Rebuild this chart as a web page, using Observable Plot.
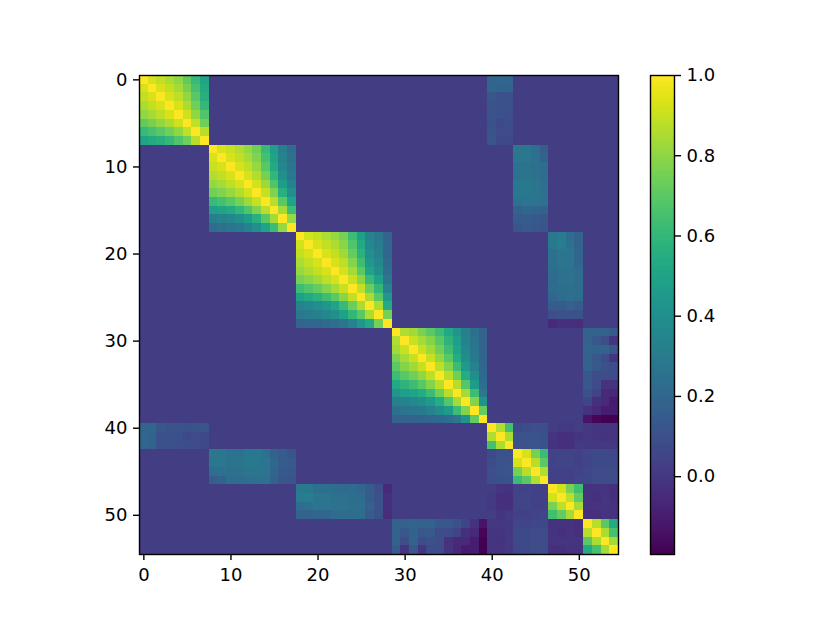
<!DOCTYPE html>
<html>
<head>
<meta charset="utf-8">
<script src="https://cdn.jsdelivr.net/npm/d3@7"></script>
<script src="https://cdn.jsdelivr.net/npm/@observablehq/plot@0.6"></script>
<style>
  html, body { margin: 0; padding: 0; background: #fff; }
  #figure { position: relative; width: 830px; height: 623px; overflow: hidden; }
  #figure svg { position: absolute; top: 0; }
</style>
</head>
<body>
<div id="figure"></div>
<script>
const N = 55;
const background = 0.02;
const axisTicks = [0, 10, 20, 30, 40, 50];
const barTicks = [0, 0.2, 0.4, 0.6, 0.8, 1];
const vmin = -0.194, vmax = 1;

// Diagonal blocks
const blockA = [ // 0-7
  [1.00,.93,.89,.85,.80,.71,.61,.50],
  [.93,1.00,.93,.89,.84,.75,.65,.53],
  [.89,.93,1.00,.93,.88,.80,.69,.56],
  [.85,.89,.93,1.00,.93,.85,.74,.60],
  [.80,.84,.88,.93,1.00,.91,.80,.67],
  [.71,.75,.80,.85,.91,1.00,.89,.74],
  [.61,.65,.69,.74,.80,.89,1.00,.87],
  [.50,.53,.56,.60,.67,.74,.87,1.00]
];
const blockB = [ // 8-17
  [1.00,.93,.90,.86,.81,.74,.61,.47,.31,.23],
  [.93,1.00,.93,.89,.84,.77,.65,.50,.34,.25],
  [.90,.93,1.00,.93,.88,.81,.69,.53,.36,.27],
  [.86,.89,.93,1.00,.93,.86,.75,.59,.40,.29],
  [.81,.84,.88,.93,1.00,.92,.82,.67,.46,.33],
  [.74,.77,.81,.86,.92,1.00,.90,.77,.56,.40],
  [.61,.65,.69,.75,.82,.90,1.00,.87,.69,.50],
  [.47,.50,.53,.59,.67,.77,.87,1.00,.84,.63],
  [.31,.34,.36,.40,.46,.56,.69,.84,1.00,.81],
  [.23,.25,.27,.29,.33,.40,.50,.63,.81,1.00]
];
const blockC = [ // 18-28
  [1.00,.92,.89,.85,.81,.75,.63,.49,.34,.28,.19],
  [.92,1.00,.93,.89,.85,.79,.67,.53,.37,.30,.20],
  [.89,.93,1.00,.93,.89,.83,.72,.57,.40,.32,.20],
  [.85,.89,.93,1.00,.93,.88,.78,.63,.44,.36,.22],
  [.81,.85,.89,.93,1.00,.92,.84,.70,.50,.40,.24],
  [.75,.79,.83,.88,.92,1.00,.90,.79,.61,.48,.27],
  [.63,.67,.72,.78,.84,.90,1.00,.89,.73,.59,.33],
  [.49,.53,.57,.63,.70,.79,.89,1.00,.85,.69,.44],
  [.34,.37,.40,.44,.50,.61,.73,.85,1.00,.85,.53],
  [.28,.30,.32,.36,.40,.48,.59,.69,.85,1.00,.75],
  [.19,.20,.20,.22,.24,.27,.33,.44,.53,.75,1.00]
];
const blockD = [ // 29-39
  [1.00,.86,.83,.76,.70,.62,.52,.43,.32,.24,.17],
  [.86,1.00,.90,.84,.78,.69,.58,.47,.34,.26,.18],
  [.83,.90,1.00,.90,.83,.74,.63,.50,.37,.27,.18],
  [.76,.84,.90,1.00,.90,.80,.69,.54,.39,.29,.19],
  [.70,.78,.83,.90,1.00,.88,.78,.62,.45,.32,.20],
  [.62,.69,.74,.80,.88,1.00,.87,.74,.54,.39,.21],
  [.52,.58,.63,.69,.78,.87,1.00,.87,.68,.46,.23],
  [.43,.47,.50,.54,.62,.74,.87,1.00,.84,.62,.28],
  [.32,.34,.37,.39,.45,.54,.68,.84,1.00,.78,.42],
  [.24,.26,.27,.29,.32,.39,.46,.62,.78,1.00,.72],
  [.17,.18,.18,.19,.20,.21,.23,.28,.42,.72,1.00]
];
const blockF = [[1.00,.86,.65],[.86,1.00,.85],[.65,.85,1.00]]; // 40-42
const blockG = [[1.00,.93,.75,.62],[.93,1.00,.87,.70],[.75,.87,1.00,.86],[.62,.70,.86,1.00]]; // 43-46
const blockH = [[1.00,.92,.76,.64],[.92,1.00,.88,.72],[.76,.88,1.00,.84],[.64,.72,.84,1.00]]; // 47-50
const blockI = [[1.00,.87,.70,.53],[.87,1.00,.85,.65],[.70,.85,1.00,.84],[.53,.65,.84,1.00]]; // 51-54

// Off-diagonal blocks
const crossAF = [ // rows 0-7, cols 40-42
  [.19,.20,.19],[.19,.19,.18],[.13,.10,.10],[.11,.10,.10],
  [.11,.10,.09],[.10,.07,.08],[.11,.08,.08],[.12,.07,.07]
];
const crossBG = [ // rows 8-17, cols 43-46
  [.28,.28,.23,.16],[.28,.28,.25,.18],[.25,.26,.24,.23],[.25,.26,.25,.23],[.29,.29,.27,.24],
  [.29,.29,.27,.25],[.25,.27,.27,.25],[.18,.20,.19,.17],[.15,.15,.14,.13],[.12,.14,.13,.12]
];
const crossCH = [ // rows 18-28, cols 47-50
  [.29,.30,.23,.18],[.29,.31,.25,.18],[.24,.27,.27,.20],[.24,.27,.27,.20],[.23,.25,.25,.23],
  [.22,.25,.26,.23],[.22,.23,.24,.23],[.20,.23,.24,.23],[.15,.15,.17,.15],[.09,.10,.11,.10],
  [-.05,-.03,-.03,-.04]
];
const crossDI = [ // rows 29-39, cols 51-54
  [.18,.18,.18,.15],[.17,.13,.09,-.01],[.19,.18,.18,.13],[.17,.13,.08,-.01],[.18,.14,.10,.08],
  [.13,.08,.09,.08],[.13,.08,-.02,-.01],[.10,.05,-.05,-.06],[.05,-.03,-.05,-.11],
  [-.02,-.06,-.10,-.10],[-.13,-.18,-.19,-.19]
];
const crossFG = [[.07,.08,.09,.09],[.10,.11,.11,.10],[.10,.11,.12,.11]]; // rows 40-42, cols 43-46
const crossFH = [[.02,.01,.00,.02],[-.01,-.03,-.03,-.01],[-.02,-.03,-.03,.01]]; // rows 40-42, cols 47-50
const crossFI = [[.00,-.01,-.01,-.01],[.00,-.01,-.02,-.01],[.00,.00,.00,.00]]; // rows 40-42, cols 51-54
const crossGH = [[.04,.05,.05,.03],[.04,.05,.05,.03],[.03,.03,.03,.04],[.03,.03,.03,.05]]; // rows 43-46, cols 47-50
const crossGI = [[.06,.07,.07,.06],[.05,.07,.07,.07],[.06,.08,.08,.08],[.06,.08,.08,.08]]; // rows 43-46, cols 51-54
const crossHI = [[-.02,-.02,-.01,-.03],[-.02,-.03,-.01,-.03],[-.02,-.01,-.01,-.02],[-.03,-.03,-.01,-.02]]; // rows 47-50, cols 51-54

const placements = [
  [0, 0, blockA], [8, 8, blockB], [18, 18, blockC], [29, 29, blockD],
  [40, 40, blockF], [43, 43, blockG], [47, 47, blockH], [51, 51, blockI],
  [0, 40, crossAF], [8, 43, crossBG], [18, 47, crossCH], [29, 51, crossDI],
  [40, 43, crossFG], [40, 47, crossFH], [40, 51, crossFI],
  [43, 47, crossGH], [43, 51, crossGI], [47, 51, crossHI]
];

const matrix = Array.from({length: N}, () => new Array(N).fill(background));
for (const [r0, c0, rows] of placements) {
  rows.forEach((row, i) => row.forEach((v, j) => {
    matrix[r0 + i][c0 + j] = v;
    matrix[c0 + j][r0 + i] = v;
  }));
}
const cells = matrix.flatMap((row, r) => row.map((value, c) => ({r, c, value})));
const indices = d3.range(N);

const colorScale = {type: "linear", scheme: "viridis", domain: [vmin, vmax], clamp: true};
const font = {fontFamily: "'DejaVu Sans', sans-serif", fontSize: "18px", background: "transparent", color: "#000", overflow: "visible"};
const tickStyle = {tickSize: 6, tickPadding: 6, strokeWidth: 1.4, fontSize: 18, label: null};

const heatmap = Plot.plot({
  width: 640, height: 623,
  marginLeft: 139, marginRight: 22, marginTop: 75, marginBottom: 69,
  style: font,
  x: {type: "band", domain: indices, padding: 0, round: false, label: null},
  y: {type: "band", domain: indices, padding: 0, round: false, label: null},
  color: colorScale,
  marks: [
    Plot.cell(cells, {x: "c", y: "r", fill: "value", inset: 0, shapeRendering: "crispEdges"}),
    Plot.axisX({anchor: "bottom", ticks: axisTicks, ...tickStyle, tickPadding: 8, tickFormat: d => String(d)}),
    Plot.axisY({anchor: "left", ticks: axisTicks, ...tickStyle, tickFormat: d => String(d)}),
    Plot.frame({stroke: "#000", strokeWidth: 1.4})
  ]
});
heatmap.style.left = "0px";

const levelCount = 256;
const levels = d3.range(levelCount).map(i => vmin + (vmax - vmin) * i / levelCount);
const levelStep = (vmax - vmin) / levelCount;

const colorbar = Plot.plot({
  width: 190, height: 623,
  marginLeft: 10, marginRight: 156, marginTop: 75, marginBottom: 69,
  style: font,
  x: {domain: [0, 1], axis: null},
  y: {domain: [vmin, vmax], label: null},
  color: colorScale,
  marks: [
    Plot.rect(levels, {x1: 0, x2: 1, y1: d => d, y2: d => d + levelStep, fill: d => d, shapeRendering: "crispEdges"}),
    Plot.axisY({anchor: "right", ticks: barTicks, ...tickStyle, tickFormat: d3.format(".1f")}),
    Plot.frame({stroke: "#000", strokeWidth: 1.4})
  ]
});
colorbar.style.left = "640px";

document.getElementById("figure").append(heatmap, colorbar);
</script>
</body>
</html>
